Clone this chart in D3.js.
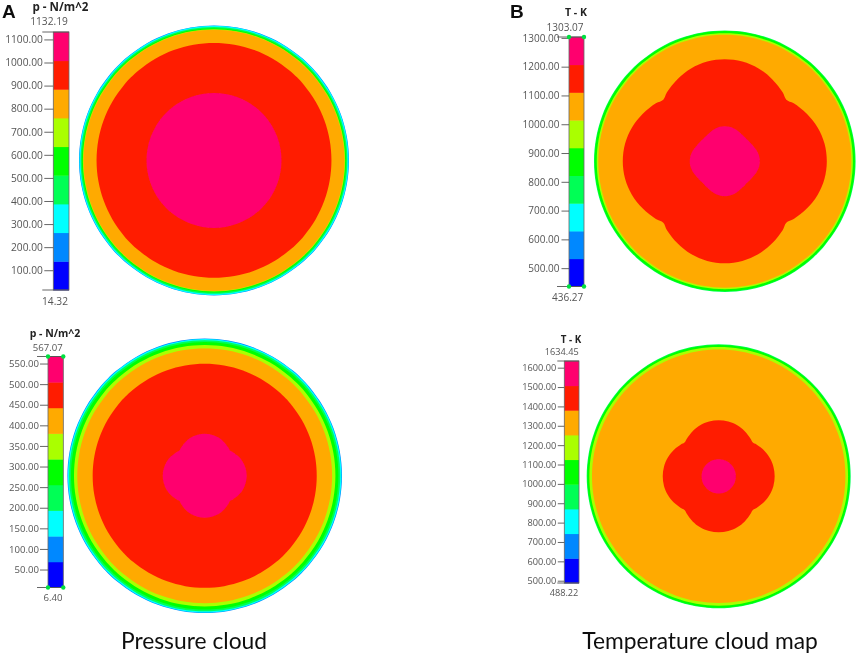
<!DOCTYPE html>
<html><head><meta charset="utf-8">
<script src="https://cdn.jsdelivr.net/npm/d3@7/dist/d3.min.js"></script>
<style>html,body{margin:0;padding:0;background:#fff}svg{display:block}</style>
</head><body><svg id="c" width="858" height="656"></svg>
<script>
// ---- data ----
const levelColors = ["#0000ff","#0088ff","#00ffff","#00ff55","#00ff00","#aaff00","#ffaa00","#ff1e00","#ff006e"];
const pressureTopTicks = [100,200,300,400,500,600,700,800,900,1000,1100];
const pressureBottomTicks = [50,100,150,200,250,300,350,400,450,500,550];
const tempTopTicks = [500,600,700,800,900,1000,1100,1200,1300];
const tempBottomTicks = [500,600,700,800,900,1000,1100,1200,1300,1400,1500,1600];
const pressureTopRange = [14.32,1132.19];
const pressureBottomRange = [6.40,567.07];
const tempTopRange = [436.27,1303.07];
const tempBottomRange = [488.22,1634.45];
// Contours: level index and normalised radius at angles from the axis (0,10,20,30,40,45 deg)
const contourAngles = [0,10,20,30,40,45];
const pressureTopLevels = [1,2,3,4,5,6,7,8];
const pressureTopContours = [[1],[.997],[.988],[.979],[.971],[.967],[.870],[.500]];
const pressureBottomLevels = [1,2,3,4,5,6,7,8];
const pressureBottomContours = [[1],[.996],[.987],[.974],[.952],[.928],[.816],[.306,.303,.296,.283,.268,.260]];
const tempTopLevels = [3,4,5,6,7,8];
const tempTopContours = [[1],[.995],[.979],[.967],[.780,.774,.755,.724,.688,.665],[.268,.265,.256,.245,.239,.237]];
const tempBottomLevels = [3,4,5,6,7,8];
const tempBottomContours = [[1],[.995],[.980],[.960],[.424,.421,.411,.395,.374,.364],[.130]];
const captions = ["Pressure cloud","Temperature cloud map"];
const panelLetters = ["A","B"];

// ---- drawing ----
const root = d3.select("#c");
root.append("defs").append("filter").attr("id","soft")
  .attr("x",0).attr("y",0).attr("width","100%").attr("height","100%")
  .append("feGaussianBlur").attr("stdDeviation",.35);
const svg = root.append("g").attr("filter","url(#soft)");
svg.append("rect").attr("width",858).attr("height",656).attr("fill","#fff");
const TEXT = "#555";
const FONT = "'Open Sans',sans-serif";
const fmt = d3.format(".2f");

function disk(cx,cy,R,levels,contours){
  const rScale = d3.scaleLinear().domain([0,1]).range([0,R]);
  const g = svg.append("g").attr("transform",`translate(${cx},${cy})`);
  const line = d3.lineRadial().curve(d3.curveCatmullRomClosed.alpha(.5))
    .angle(d=>d.a*Math.PI/180).radius(d=>rScale(d.r));
  const outline = p=>{
    const pts=[];
    for(let s=0;s<8;s++){
      const base=s*45;
      const idx=contourAngles.map((_,i)=>i);
      (s%2?idx.slice().reverse():idx).forEach((i,n)=>{
        if(n===contourAngles.length-1) return;
        const ang=s%2? base+45-contourAngles[i] : base+contourAngles[i];
        pts.push({a:ang,r:p.length===1?p[0]:p[i]});
      });
    }
    return pts;
  };
  g.selectAll("path").data(contours).join("path")
    .attr("d",d=>line(outline(d)))
    .attr("fill",(d,i)=>levelColors[levels[i]]);
}

function bar(o){
  const y = d3.scaleLinear().domain(o.range).range([o.y1,o.y0]);
  const g = svg.append("g");
  const bands = d3.scaleBand().domain(levelColors.map((_,i)=>i)).range([o.y1,o.y0]);
  g.selectAll("rect.b").data(levelColors).join("rect").attr("class","b")
    .attr("x",o.x).attr("width",o.w)
    .attr("y",(d,i)=>bands(i)).attr("height",bands.bandwidth()+.4)
    .attr("fill",d=>d);
  g.append("rect").attr("x",o.x).attr("y",o.y0).attr("width",o.w).attr("height",o.y1-o.y0)
    .attr("fill","none").attr("stroke","#666").attr("stroke-width",.8);
  const ax = d3.axisLeft(y).tickValues(o.ticks).tickFormat(fmt).tickSize(o.tick).tickPadding(o.pad);
  const a = g.append("g").attr("transform",`translate(${o.x},0)`).call(ax);
  a.select(".domain").remove();
  a.selectAll("line").attr("stroke","#555").attr("stroke-width",.9);
  a.selectAll("text").attr("fill",TEXT).style("font",`${o.fs}px ${FONT}`);
  g.selectAll("line.e").data(o.range).join("line").attr("class","e")
    .attr("x1",o.x-o.end).attr("x2",o.x+o.w).attr("y1",d=>y(d)).attr("y2",d=>y(d))
    .attr("stroke","#555").attr("stroke-width",.9);
  if(o.dots){
    const pts=o.range.flatMap(v=>[0,o.w].map(dx=>({dx,v})));
    g.selectAll("circle").data(pts).join("circle")
      .attr("cx",d=>o.x+d.dx).attr("cy",d=>y(d.v)).attr("r",2.2).attr("fill","#00e040");
  }
  const t=(s,x,yy,weight,fs)=>g.append("text").text(s).attr("x",x).attr("y",yy)
    .attr("text-anchor","middle").attr("fill",weight?"#222":TEXT)
    .style("font",`${weight?"bold ":""}${fs}px ${FONT}`);
  t(o.title,o.tx,o.ty,true,o.tfs);
  t(fmt(o.range[1]),o.maxx,y(o.range[1])+o.maxdy,false,o.fs);
  t(fmt(o.range[0]),o.minx,y(o.range[0])+o.mindy,false,o.fs);
}

disk(214,160.4,135,pressureTopLevels,pressureTopContours);
disk(204.7,475.8,137.3,pressureBottomLevels,pressureBottomContours);
disk(724.8,161.2,130.8,tempTopLevels,tempTopContours);
disk(718.7,476.3,132,tempBottomLevels,tempBottomContours);

bar({range:pressureTopRange,ticks:pressureTopTicks,x:53.3,w:15.7,y0:32,y1:290,tick:9,end:11,pad:1.5,fs:10.2,tfs:11.6,
  title:"p - N/m^2",tx:60.5,ty:11,maxx:49,maxdy:-7,minx:55,mindy:15});
bar({range:pressureBottomRange,ticks:pressureBottomTicks,x:48,w:15.3,y0:356.5,y1:587.5,tick:8,end:11,pad:1,fs:9.6,tfs:10.5,dots:true,
  title:"p - N/m^2",tx:55,ty:337,maxx:47.7,maxdy:-6,minx:53,mindy:13.5});
bar({range:tempTopRange,ticks:tempTopTicks,x:569,w:15,y0:37,y1:286.5,tick:7.5,end:12,pad:2,fs:10,tfs:10.5,dots:true,
  title:"T - K",tx:576,ty:15.5,maxx:565,maxdy:-6.5,minx:567.7,mindy:14.5});
bar({range:tempBottomRange,ticks:tempBottomTicks,x:564.3,w:14.7,y0:361,y1:583,tick:6.5,end:7,pad:1.5,fs:9.2,tfs:9.8,
  title:"T - K",tx:571,ty:342.5,maxx:561.7,maxdy:-6,minx:564,mindy:13});

svg.selectAll("text.letter").data(panelLetters).join("text").attr("class","letter")
  .text(d=>d).attr("x",(d,i)=>[2,510][i]).attr("y",18)
  .attr("fill","#111").style("font","bold 19px 'Liberation Sans',sans-serif");
svg.selectAll("text.cap").data(captions).join("text").attr("class","cap")
  .text(d=>d).attr("x",(d,i)=>[194,700][i]).attr("y",649).attr("text-anchor","middle")
  .attr("fill","#111").style("font","22.8px Lato,sans-serif");
</script></body></html>
